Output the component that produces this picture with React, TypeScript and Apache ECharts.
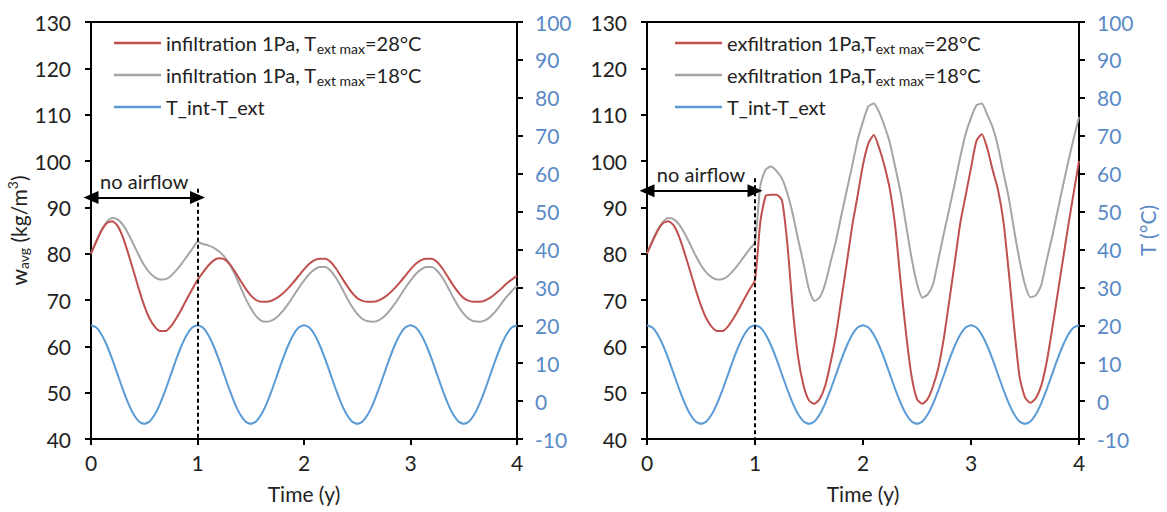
import React, { useEffect, useRef } from 'react';
import * as echarts from 'echarts';

// time in years (sampled every 0.05 y)
const TIME = [
  0, 0.05, 0.1, 0.15, 0.2, 0.25, 0.3, 0.35, 0.4, 0.45, 0.5, 0.55, 0.6, 0.65, 0.7, 0.75, 0.8, 0.85, 0.9, 0.95,
  1, 1.05, 1.1, 1.15, 1.2, 1.25, 1.3, 1.35, 1.4, 1.45, 1.5, 1.55, 1.6, 1.65, 1.7, 1.75, 1.8, 1.85, 1.9, 1.95,
  2, 2.05, 2.1, 2.15, 2.2, 2.25, 2.3, 2.35, 2.4, 2.45, 2.5, 2.55, 2.6, 2.65, 2.7, 2.75, 2.8, 2.85, 2.9, 2.95,
  3, 3.05, 3.1, 3.15, 3.2, 3.25, 3.3, 3.35, 3.4, 3.45, 3.5, 3.55, 3.6, 3.65, 3.7, 3.75, 3.8, 3.85, 3.9, 3.95,
  4,
];

// T_int - T_ext (°C), right axis
const T_DIFF = [
  20, 19.4, 17.5, 14.6, 11, 7, 3, -0.6, -3.5, -5.4, -6, -5.4, -3.5, -0.6, 3, 7, 11, 14.6, 17.5, 19.4,
  20, 19.4, 17.5, 14.6, 11, 7, 3, -0.6, -3.5, -5.4, -6, -5.4, -3.5, -0.6, 3, 7, 11, 14.6, 17.5, 19.4,
  20, 19.4, 17.5, 14.6, 11, 7, 3, -0.6, -3.5, -5.4, -6, -5.4, -3.5, -0.6, 3, 7, 11, 14.6, 17.5, 19.4,
  20, 19.4, 17.5, 14.6, 11, 7, 3, -0.6, -3.5, -5.4, -6, -5.4, -3.5, -0.6, 3, 7, 11, 14.6, 17.5, 19.4,
  20,
];

// left panel: infiltration (kg/m3)
const INF_28 = [
  80, 82.6, 85, 86.6, 87, 86, 83.5, 80, 76.2, 72.3, 68.8, 66, 64.2, 63.3, 63.3, 64.3, 66, 68, 70.2, 72.3,
  74.3, 75.9, 77.4, 78.5, 79, 78.8, 77.8, 76.2, 74.3, 72.5, 71, 70, 69.6, 69.6, 69.9, 70.5, 71.4, 72.5, 73.8, 75.2,
  76.6, 77.8, 78.6, 78.9, 78.9, 78.2, 76.8, 75, 73.2, 71.6, 70.4, 69.8, 69.6, 69.6, 69.9, 70.5, 71.4, 72.5, 73.8, 75.2,
  76.6, 77.8, 78.6, 78.9, 78.9, 78.2, 76.8, 75, 73.2, 71.6, 70.4, 69.8, 69.6, 69.6, 69.9, 70.5, 71.4, 72.4, 73.5, 74.4,
  75.2,
];
const INF_18 = [
  80, 82.8, 85.2, 86.9, 87.7, 87.4, 86.2, 84.3, 82, 79.6, 77.5, 75.9, 74.9, 74.4, 74.5, 75.2, 76.4, 77.8, 79.4, 81,
  82.5, 82.1, 81.8, 81.3, 80.5, 79.4, 77.8, 75.6, 73, 70.4, 68.2, 66.5, 65.5, 65.3, 65.6, 66.4, 67.6, 69.1, 70.8, 72.6,
  74.2, 75.6, 76.6, 77.1, 77.1, 76.3, 74.8, 72.8, 70.6, 68.6, 67, 65.9, 65.4, 65.3, 65.6, 66.4, 67.6, 69.1, 70.8, 72.6,
  74.2, 75.6, 76.6, 77.1, 77.1, 76.3, 74.8, 72.8, 70.6, 68.6, 67, 65.9, 65.4, 65.3, 65.6, 66.4, 67.6, 69.1, 70.6, 71.9,
  73,
];

// right panel: exfiltration (kg/m3)
const EXF_28 = [
  80, 82.6, 85, 86.6, 87, 86, 83.5, 80, 76.2, 72.3, 68.8, 66, 64.2, 63.3, 63.3, 64.3, 66, 68, 70.2, 72.3,
  74.3, 87, 92.5, 92.7, 92.7, 91.5, 82, 68, 57.5, 51.5, 48.3, 47.6, 48.7, 51.5, 56.5, 62.5, 70.2, 78, 86, 92.5,
  99.2, 103.8, 105.6, 102.8, 98.8, 93.7, 85.5, 73.5, 62.5, 53.5, 48.6, 47.6, 48.7, 51.5, 55.6, 62, 70, 78.2, 86.5, 92.5,
  98.5, 104.3, 105.8, 102.8, 98.1, 93.8, 87, 76, 64, 53.4, 49, 47.8, 48.8, 51.5, 56.5, 63.5, 71, 78.5, 86, 93,
  100,
];
const EXF_18 = [
  80, 82.8, 85.2, 86.9, 87.7, 87.4, 86.2, 84.3, 82, 79.6, 77.5, 75.9, 74.9, 74.4, 74.5, 75.2, 76.4, 77.8, 79.4, 81,
  82.5, 94.8, 98.2, 98.8, 97.8, 96.2, 93, 88.5, 83, 77.8, 72.3, 69.8, 70.6, 73.5, 78.2, 82.8, 88.3, 93.7, 99, 104.5,
  108.5, 111.8, 112.4, 110.5, 107.5, 103.8, 98.5, 93, 86, 79, 73.5, 70.5, 71.2, 73.5, 79, 84.5, 89.8, 95.2, 100.8, 105.8,
  109.3, 112, 112.4, 110, 107.3, 103.1, 97.5, 92, 85, 78.5, 73.3, 70.6, 71, 73.2, 78.5, 83.5, 89, 94.5, 99.8, 104.8,
  109.5,
];

const NAMES_LEFT = ['infiltration 1Pa, T_ext max=28°C', 'infiltration 1Pa, T_ext max=18°C', 'T_int-T_ext'];
const NAMES_RIGHT = ['exfiltration 1Pa,T_ext max=28°C', 'exfiltration 1Pa,T_ext max=18°C', 'T_int-T_ext'];
const ANNOTATION = 'no airflow';

const RED = '#C0504D';
const GRAY = '#A5A5A5';
const BLUE = '#5B9BD5';
const BLUE_TEXT = '#5A8AC6';
const TEXT = '#222222';
const FONT = 'Lato, "Open Sans", sans-serif';

const pairs = (ys: number[]) => TIME.map((t, i) => [t, ys[i]]);

export default function App() {
  const ref = useRef<HTMLDivElement>(null);

  useEffect(() => {
    if (!ref.current) return;
    const chart = echarts.init(ref.current, undefined, { renderer: 'svg' });

    const axisLine = { show: true, onZero: false, lineStyle: { color: '#000', width: 2 } };
    const axisTick = { show: true, length: 6, lineStyle: { color: '#000', width: 2 } };

    const xAxis = (gridIndex: number) => ({
      type: 'value',
      gridIndex,
      min: 0,
      max: 4,
      interval: 1,
      axisLine,
      axisTick,
      splitLine: { show: false },
      axisLabel: { fontSize: 21, color: TEXT, fontFamily: FONT, margin: 13 },
      name: 'Time (y)',
      nameLocation: 'middle',
      nameGap: 44,
      nameTextStyle: { fontSize: 21, color: TEXT, fontFamily: FONT },
    });

    const yLeft = (gridIndex: number, withName: boolean) => ({
      type: 'value',
      gridIndex,
      position: 'left',
      min: 40,
      max: 130,
      interval: 10,
      axisLine,
      axisTick,
      splitLine: { show: false },
      axisLabel: { fontSize: 21, color: TEXT, fontFamily: FONT, margin: 20 },
      name: withName ? '{w|w}{s|avg}{w| (kg/m}{p|3}{w|)}' : '',
      nameLocation: 'middle',
      nameRotate: 90,
      nameGap: 58,
      nameTextStyle: {
        fontFamily: FONT,
        color: TEXT,
        rich: {
          w: { fontSize: 21, lineHeight: 25, color: TEXT, fontFamily: FONT },
          s: { fontSize: 14, lineHeight: 13, verticalAlign: 'bottom', color: TEXT, fontFamily: FONT },
          p: { fontSize: 14, lineHeight: 13, verticalAlign: 'top', color: TEXT, fontFamily: FONT },
        },
      },
    });

    const yRight = (gridIndex: number, withName: boolean) => ({
      type: 'value',
      gridIndex,
      position: 'right',
      min: -10,
      max: 100,
      interval: 10,
      axisLine,
      axisTick,
      splitLine: { show: false },
      axisLabel: { fontSize: 21, color: BLUE_TEXT, fontFamily: FONT, margin: 18 },
      name: withName ? 'T (°C)' : '',
      nameLocation: 'middle',
      nameRotate: 90,
      nameGap: 57,
      nameTextStyle: { fontSize: 21, color: BLUE_TEXT, fontFamily: FONT },
    });

    const legendRich = {
      n: { fontSize: 20, lineHeight: 24, color: TEXT, fontFamily: FONT },
      s: { fontSize: 14, lineHeight: 12, verticalAlign: 'bottom', color: TEXT, fontFamily: FONT },
    };
    const legendFormatter = (name: string) => {
      const idx = name.indexOf('T_ext max');
      if (idx < 0) return `{n|${name}}`;
      return `{n|${name.slice(0, idx)}T}{s|ext max}{n|${name.slice(idx + 9)}}`;
    };
    const legend = (left: number, data: string[]) => ({
      orient: 'vertical',
      left,
      top: 28,
      itemWidth: 47,
      itemHeight: 2.5,
      itemGap: 10,
      icon: 'rect',
      selectedMode: false,
      data,
      formatter: legendFormatter,
      textStyle: { rich: legendRich, fontFamily: FONT, fontSize: 20, color: TEXT },
    });

    const annot = (arrowY: number, dashTop: number) => ({
      silent: true,
      animation: false,
      label: { show: false },
      data: [
        [
          {
            coord: [0, arrowY],
            symbol: 'triangle',
            symbolSize: [13, 15],
            lineStyle: { color: '#000', width: 2, type: 'solid' },
            itemStyle: { color: '#000' },
            label: {
              show: true,
              formatter: ANNOTATION,
              position: 'insideMiddleTop',
              distance: 7,
              fontSize: 20,
              color: TEXT,
              fontFamily: FONT,
            },
          },
          { coord: [1, arrowY], symbol: 'triangle', symbolSize: [13, 15], itemStyle: { color: '#000' } },
        ],
        [
          {
            coord: [1, dashTop],
            symbol: 'none',
            lineStyle: { color: '#000', width: 2, type: [4, 3] },
            label: { show: false },
          },
          { coord: [1, 40], symbol: 'none' },
        ],
      ],
    });

    const line = (name: string, data: number[], color: string, xi: number, yi: number, extra: any = {}) => ({
      type: 'line',
      name,
      xAxisIndex: xi,
      yAxisIndex: yi,
      data: pairs(data),
      symbol: 'none',
      showSymbol: false,
      smooth: 0.2,
      lineStyle: { color, width: 2 },
      itemStyle: { color },
      ...extra,
    });

    chart.setOption({
      animation: false,
      textStyle: { fontFamily: FONT },
      grid: [
        { left: 91, right: 650, top: 22, bottom: 73, show: true, borderColor: '#000', borderWidth: 2 },
        { left: 647, right: 88, top: 22, bottom: 73, show: true, borderColor: '#000', borderWidth: 2 },
      ],
      xAxis: [xAxis(0), xAxis(1)],
      yAxis: [yLeft(0, true), yRight(0, false), yLeft(1, false), yRight(1, true)],
      legend: [legend(109, NAMES_LEFT), legend(670, NAMES_RIGHT)],
      series: [
        line(NAMES_LEFT[2], T_DIFF, BLUE, 0, 1),
        line(NAMES_LEFT[1], INF_18, GRAY, 0, 0),
        line(NAMES_LEFT[0], INF_28, RED, 0, 0, { markLine: annot(92.1, 94) }),
        line(NAMES_RIGHT[2], T_DIFF, BLUE, 1, 3),
        line(NAMES_RIGHT[1], EXF_18, GRAY, 1, 2),
        line(NAMES_RIGHT[0], EXF_28, RED, 1, 2, { markLine: annot(93.6, 96.3) }),
      ],
    });

    return () => chart.dispose();
  }, []);

  return (
    <div
      ref={ref}
      style={{ position: 'absolute', left: 0, top: 0, width: 1167, height: 512, background: '#fff' }}
    />
  );
}
